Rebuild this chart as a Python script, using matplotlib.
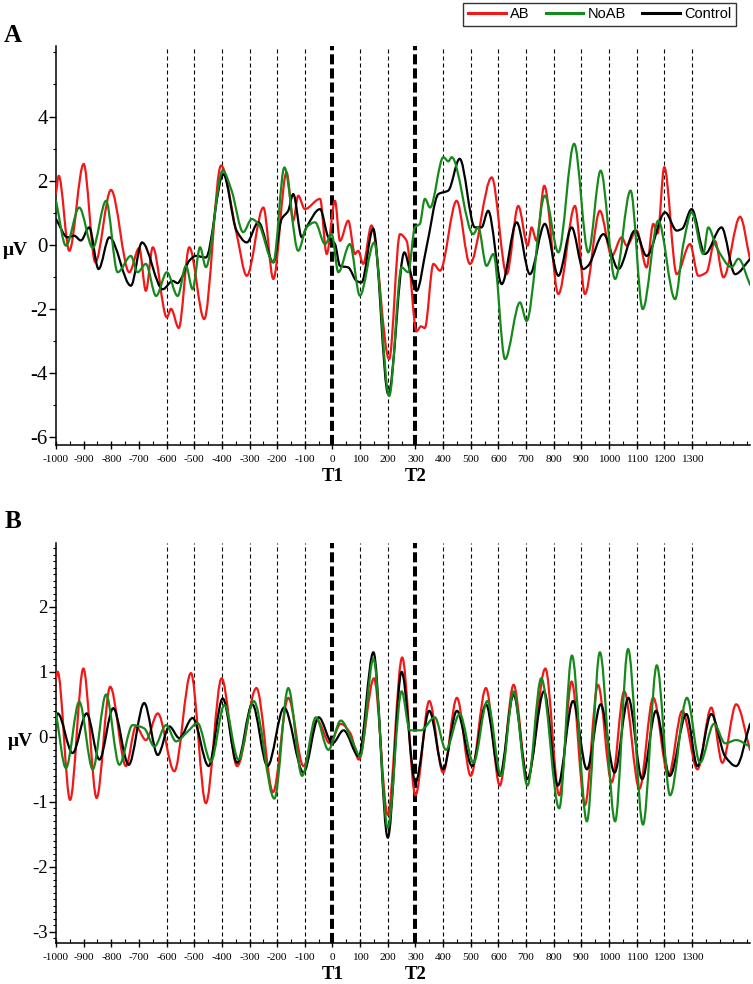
# ERP / alpha-band waveforms for AB, NoAB and Control groups (panels A and B)

import numpy as np
import matplotlib
matplotlib.use('Agg')
import matplotlib.pyplot as plt
from matplotlib.path import Path
from matplotlib.patches import PathPatch
from matplotlib.lines import Line2D

plt.rcParams['font.family'] = ['Liberation Serif', 'DejaVu Serif']
plt.rcParams['axes.unicode_minus'] = False

# ---- panel A (time ms, amplitude uV) ----
a_ab_t = [-1000, -990, -952, -900, -858, -801, -735, -699, -675, -650, -599, -584, -556, -518,
          -464, -403, -347, -310, -250, -214, -166, -142, -124, -100, -45, -21, 9, 27, 57, 81,
          93, 111, 141, 205, 244, 268, 304, 320, 334, 365, 389, 449, 497, 576, 630, 672, 706,
          720, 738, 766, 817, 877, 913, 967, 1010, 1046, 1064, 1100, 1136, 1160, 1176, 1200,
          1245, 1293, 1323, 1353, 1383, 1414, 1474, 1510]
a_ab_v = [1.6, 2.15, -0.19, 2.52, -0.55, 1.71, -0.86, -0.1, -1.44, -0.08, -2.27, -2.0, -2.6, -0.08,
          -2.32, 2.47, 0.35, -0.97, 1.16, -1.07, 2.26, 0.75, 1.53, 1.11, 1.43, -0.29, 1.37, 0.12, 0.75, -0.29,
          -0.19, -0.6, 0.6, -3.57, 0.33, 0.12, -2.7, -2.55, -2.6, -0.6, -0.81, 1.37, -0.6, 2.1, -0.92, 1.21, -0.03,
          0.54, 0.12, 1.84, -1.54, 1.21, -1.54, 1.06, -0.35, 0.23, -0.03, 0.44, -0.71, 0.65, 0.35, 2.42,
          -0.92, 0.02, -0.97, -0.86, 0.12, -1.02, 0.87, -0.45]

a_noab_t = [-1000, -964, -916, -867, -819, -777, -729, -705, -675, -638, -599, -560, -530, -506,
            -479, -458, -397, -365, -323, -292, -268, -214, -174, -124, -94, -63, -27, -3, 21, 63,
            99, 151, 205, 250, 274, 298, 316, 334, 353, 401, 419, 431, 509, 527, 557, 582, 624,
            678, 702, 768, 817, 874, 925, 970, 1022, 1078, 1122, 1178, 1239, 1269, 1299, 1341,
            1359, 1389, 1444, 1468, 1510]
a_noab_v = [1.37, -0.03, 1.16, -0.1, 1.37, -0.86, -0.35, -0.86, -0.6, -1.6, -0.86, -1.6, -0.66, -1.39,
            -0.08, -0.7, 2.31, 1.69, 0.39, 0.8, 0.65, -0.55, 2.41, -0.19, 0.54, 0.7, 0.02, 0.33, -0.86, 0.02,
            -1.59, 0.07, -4.72, -0.71, -0.86, 0.54, 0.65, 1.43, 1.16, 2.73, 2.6, 2.73, 0.33, 0.54, -0.66, -0.29, -3.57,
            -1.8, -2.38, 1.53, -0.24, 3.15, -0.24, 2.31, -1.07, 1.69, -2.01, 0.75, -1.7, 0.02, 1.01, -0.29,
            0.54, -0.08, -0.7, -0.44, -1.25]

a_ctrl_t = [-1000, -958, -934, -910, -880, -846, -807, -729, -689, -614, -578, -560, -548, -518,
            -494, -458, -395, -347, -310, -268, -214, -184, -160, -142, -111, -94, -45, -15, 9, 27,
            57, 87, 105, 147, 202, 260, 280, 304, 340, 383, 419, 460, 515, 539, 563, 612, 666,
            714, 768, 817, 865, 907, 925, 980, 1034, 1094, 1136, 1203, 1245, 1265, 1299, 1347,
            1407, 1456, 1510]
a_ctrl_v = [0.8, 0.23, 0.28, 0.13, 0.54, -0.76, 0.23, -1.28, 0.07, -1.39, -1.13, -1.2, -1.07, -0.5,
            -0.35, -0.4, 2.2, 0.44, 0.07, 0.7, -0.55, 0.8, 1.06, 1.58, 0.23, 0.54, 1.11, 0.23, 0.02, -0.66,
            -0.71, -1.13, -1.18, 0.5, -4.67, -0.24, -0.81, -1.44, -0.08, 1.58, 1.69, 2.68, 0.54, 0.54, 1.06, -1.23, 0.7,
            -0.92, 0.65, -0.97, 0.54, -0.76, -0.65, 0.33, -0.76, 0.44, -0.35, 1.01, 0.44, 0.5, 1.11, -0.29,
            0.54, -0.92, -0.45]

# ---- panel B ----
b_ab_t = [-1000, -994, -949, -901, -853, -804, -747, -711, -675, -632, -572, -512, -458, -401,
          -345, -275, -215, -160, -105, -55, -10, 30, 65, 95, 150, 200, 252, 300, 350, 400, 450,
          500, 555, 605, 655, 705, 770, 820, 865, 913, 960, 1010, 1055, 1110, 1160, 1215, 1265,
          1320, 1370, 1410, 1460, 1510]
b_ab_v = [0.9, 1.0, -0.97, 1.05, -0.94, 0.77, -0.45, 0.16, -0.05, 0.36, -0.53, 0.98, -1.02, 0.9,
          -0.45, 0.75, -0.85, 0.6, -0.45, 0.25, -0.1, 0.2, 0.05, -0.35, 0.9, -1.2, 1.22, -0.9, 0.55, -0.55, 0.6,
          -0.6, 0.75, -0.75, 0.8, -0.65, 1.05, -0.9, 0.85, -1.05, 0.8, -0.7, 0.7, -0.8, 0.6, -0.6, 0.4,
          -0.5, 0.45, -0.4, 0.5, -0.2]

b_noab_t = [-1000, -964, -916, -867, -819, -771, -723, -681, -644, -602, -566, -524, -488, -440,
            -391, -340, -285, -210, -160, -110, -60, -15, 30, 75, 100, 148, 200, 250, 280, 320, 370,
            410, 460, 510, 560, 610, 655, 705, 755, 820, 866, 920, 967, 1022, 1069, 1123, 1173,
            1221, 1282, 1329, 1380, 1420, 1460, 1510]
b_noab_v = [0.36, -0.48, 0.54, -0.5, 0.65, -0.43, 0.18, 0.13, -0.15, 0.18, -0.07, 0.08, 0.21, -0.38,
            0.49, -0.35, 0.55, -0.95, 0.75, -0.6, 0.3, -0.2, 0.25, -0.1, -0.3, 1.2, -1.4, 0.7, 0.1, 0.1, 0.3,
            -0.2, 0.35, -0.4, 0.55, -0.6, 0.7, -0.75, 0.9, -1.1, 1.25, -1.3, 1.3, -1.3, 1.35, -1.35, 1.1,
            -0.9, 0.6, -0.4, 0.2, -0.1, -0.05, -0.15]

b_ctrl_t = [-1000, -994, -940, -889, -843, -793, -737, -681, -632, -590, -554, -506, -448, -397,
            -345, -290, -235, -175, -105, -50, 0, 40, 95, 148, 200, 250, 300, 350, 400, 450, 505,
            555, 605, 655, 705, 765, 815, 870, 920, 970, 1020, 1070, 1120, 1170, 1220, 1280, 1320,
            1370, 1420, 1460, 1510]
b_ctrl_v = [0.3, 0.36, -0.25, 0.36, -0.35, 0.44, -0.43, 0.52, -0.28, 0.16, -0.02, 0.29, -0.45, 0.59,
            -0.4, 0.5, -0.45, 0.45, -0.55, 0.3, -0.1, 0.1, -0.3, 1.3, -1.55, 1.0, -0.7, 0.4, -0.5, 0.4, -0.45,
            0.5, -0.6, 0.65, -0.65, 0.7, -0.75, 0.55, -0.5, 0.5, -0.55, 0.6, -0.65, 0.4, -0.6, 0.35, -0.45,
            0.35, -0.3, -0.45, 0.2]

labels = ['AB', 'NoAB', 'Control']
colors = ['#f21818', '#16891c', '#000000']
grid_lines = [-600, -500, -400, -300, -200, -100, 100, 200, 400, 500, 600, 700, 800, 900, 1000,
              1100, 1200, 1300]
onsets = [0, 300]


def smooth_path(t, v):
    '''
        monotone cubic (PCHIP style) bezier path through the read points
    '''
    t = np.asarray(t, float)
    v = np.asarray(v, float)
    h = np.diff(t)
    d = np.diff(v) / h
    m = np.zeros_like(v)
    m[0], m[-1] = d[0], d[-1]
    for k in range(1, len(v) - 1):
        if d[k - 1] * d[k] > 0:
            w1 = 2 * h[k] + h[k - 1]
            w2 = h[k] + 2 * h[k - 1]
            m[k] = (w1 + w2) / (w1 / d[k - 1] + w2 / d[k])
    verts = [(t[0], v[0])]
    codes = [Path.MOVETO]
    for k in range(len(t) - 1):
        verts += [(t[k] + h[k] / 3, v[k] + m[k] * h[k] / 3),
                  (t[k + 1] - h[k] / 3, v[k + 1] - m[k + 1] * h[k] / 3),
                  (t[k + 1], v[k + 1])]
        codes += [Path.CURVE4] * 3
    return Path(verts, codes)


def draw_panel(ax, series, ylim, yticks, yminor, yfs):
    for x in grid_lines:
        ax.axvline(x, color='k', lw=0.8, ls=(0, (3.6, 2.7)), zorder=1)
    for x in onsets:
        ax.axvline(x, color='k', lw=2.9, ls=(0, (2.5, 1.0)), zorder=1)
    # red, black, green stacking
    for idx in (0, 2, 1):
        t, v = series[idx]
        ax.add_patch(PathPatch(smooth_path(t, v), fill=False, edgecolor=colors[idx],
                               lw=1.6, zorder=3, joinstyle='round', capstyle='round'))

    ax.set_xlim(-1000, 1510)
    ax.set_ylim(*ylim)
    ax.spines['top'].set_visible(False)
    ax.spines['right'].set_visible(False)
    ax.spines['left'].set_linewidth(1.1)
    ax.spines['bottom'].set_linewidth(1.1)

    ax.set_xticks(np.arange(-1000, 1301, 100))
    ax.set_xticks(np.arange(-950, 1501, 50), minor=True)
    ax.set_xticklabels([str(x) for x in range(-1000, 1301, 100)], fontsize=8.2)
    ax.set_yticks(yticks)
    ax.set_yticks(yminor, minor=True)
    ax.set_yticklabels([str(y) for y in yticks], fontsize=yfs)
    ax.tick_params(axis='x', which='major', direction='inout', length=6, width=1, pad=4.5)
    ax.tick_params(axis='x', which='minor', direction='in', length=3, width=0.8)
    ax.tick_params(axis='y', which='major', direction='out', length=5, width=1, pad=1)
    ax.tick_params(axis='y', which='minor', direction='out', length=2.5, width=0.8)

    # T1 / T2 about 31 px under the axis line
    for x, s in zip(onsets, ['T1', 'T2']):
        ax.annotate(s, xy=(x, 0), xycoords=('data', 'axes fraction'), xytext=(0, -23),
                    textcoords='offset points', ha='center', va='center',
                    fontsize=13.5, fontweight='bold')


fig = plt.figure(figsize=(7.53, 9.84), dpi=100)
ax1 = fig.add_axes([56 / 753, 1 - 445 / 984, 694 / 753, 399 / 984])
ax2 = fig.add_axes([56 / 753, 1 - 943 / 984, 694 / 753, 400 / 984])

draw_panel(ax1, [(a_ab_t, a_ab_v), (a_noab_t, a_noab_v), (a_ctrl_t, a_ctrl_v)],
           (-6.25, 6.2), [-6, -4, -2, 0, 2, 4], np.arange(-6, 6.1, 1), 15)
draw_panel(ax2, [(b_ab_t, b_ab_v), (b_noab_t, b_noab_v), (b_ctrl_t, b_ctrl_v)],
           (-3.17, 2.98), [-3, -2, -1, 0, 1, 2], np.arange(-3.1, 3.0, 0.1), 13.5)

fig.text(13 / 753, 1 - 35 / 984, 'A', fontsize=18, fontweight='bold', ha='center', va='center')
fig.text(13 / 753, 1 - 522 / 984, 'B', fontsize=18, fontweight='bold', ha='center', va='center')
fig.text(15 / 753, 1 - 250 / 984, 'μV', fontsize=14, fontweight='bold', ha='center', va='center')
fig.text(20 / 753, 1 - 741 / 984, 'μV', fontsize=14, fontweight='bold', ha='center', va='center')

handles = [Line2D([], [], color=c, lw=2.2) for c in colors]
leg = fig.legend(handles, labels, loc='upper right', bbox_to_anchor=(736 / 753, 1 - 3 / 984),
                 ncol=3, frameon=True, fancybox=False, edgecolor='k', handlelength=2.6,
                 handletextpad=0.3, columnspacing=1.1, borderpad=0.3, borderaxespad=0,
                 prop={'family': ['Liberation Sans', 'DejaVu Sans'], 'size': 10.5})
leg.get_frame().set_linewidth(1.0)

fig.savefig('out.png', dpi=100)
